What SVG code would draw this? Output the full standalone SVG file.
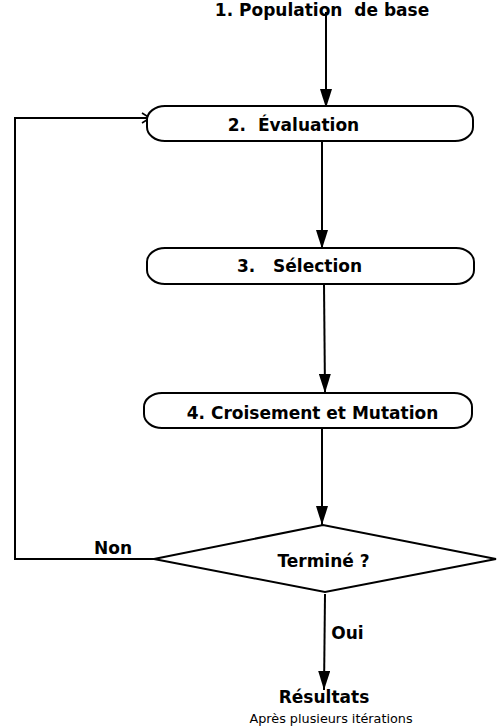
<svg xmlns="http://www.w3.org/2000/svg" width="503" height="728" viewBox="0 0 503 728">
<style>
text{font-family:"DejaVu Sans",sans-serif;fill:#000;white-space:pre}
.b{font-weight:bold;font-size:17px}
.n{font-size:12.8px}
.shape{fill:#fff;stroke:#000;stroke-width:2}
.c{fill:none;stroke:#000;stroke-width:2}
</style>
<defs>
<marker id="arrA" markerUnits="userSpaceOnUse" markerWidth="20" markerHeight="12" viewBox="0 0 20 12" refX="19" refY="6" orient="auto">
<path d="M0,0 L19,6 L0,12 Z" fill="#000"/>
</marker>
<marker id="open" markerUnits="userSpaceOnUse" markerWidth="12" markerHeight="12" viewBox="0 0 12 12" refX="10" refY="6" orient="auto">
<path d="M2,1 L10,6 L2,11" fill="none" stroke="#000" stroke-width="1.6"/>
</marker>
</defs>
<g id="connectors">
<line class="c" x1="326" y1="12" x2="326" y2="108" marker-end="url(#arrA)"/>
<line class="c" x1="322" y1="141" x2="322" y2="249" marker-end="url(#arrA)"/>
<line class="c" x1="324" y1="284" x2="325" y2="393" marker-end="url(#arrA)"/>
<line class="c" x1="322" y1="428" x2="322" y2="525" marker-end="url(#arrA)"/>
<line class="c" x1="325" y1="594" x2="324" y2="690" marker-end="url(#arrA)"/>
<polyline class="c" points="154,559 15,559 15,117"/>
<line class="c" x1="15" y1="118" x2="150" y2="118" marker-end="url(#open)"/>
<text class="b" x="113" y="554" text-anchor="middle">Non</text>
<text class="b" x="347.5" y="639" text-anchor="middle">Oui</text>
</g>
<g id="n1">
<text class="b" x="322" y="16" text-anchor="middle">1. Population  de base</text>
</g>
<g id="n2">
<rect class="shape" x="147" y="106" width="326" height="35" rx="18" ry="14"/>
<text class="b" x="293.5" y="131" text-anchor="middle">2.  Évaluation</text>
</g>
<g id="n3">
<rect class="shape" x="147" y="248" width="327" height="36" rx="18" ry="14"/>
<text class="b" x="299.5" y="272" text-anchor="middle">3.   Sélection</text>
</g>
<g id="n4">
<rect class="shape" x="144" y="393" width="328" height="35" rx="18" ry="14"/>
<text class="b" x="312.5" y="419" text-anchor="middle">4. Croisement et Mutation</text>
</g>
<g id="n5">
<polygon class="shape" points="154,559 323,525 496,559 325,592"/>
<text class="b" x="323.5" y="567" text-anchor="middle">Terminé ?</text>
</g>
<g id="n6">
<text class="b" x="324" y="703" text-anchor="middle">Résultats</text>
<text class="n" x="331" y="723" text-anchor="middle">Après plusieurs itérations</text>
</g>
</svg>
